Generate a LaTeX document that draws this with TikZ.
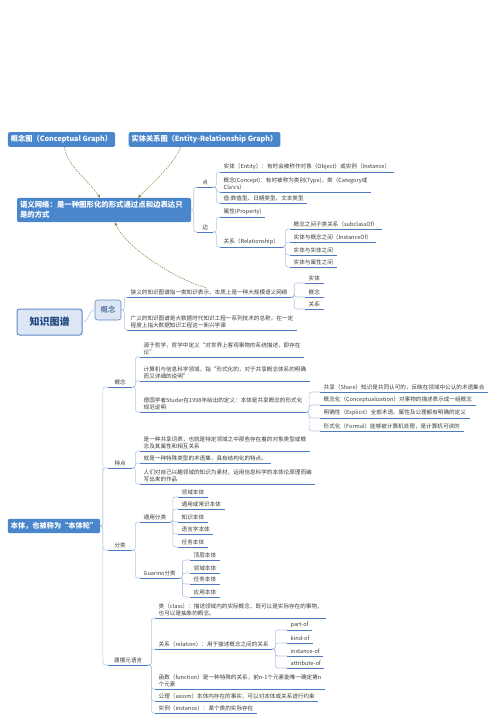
\documentclass[tikz,border=0pt]{standalone}
\usepackage{fontspec}
\setmainfont{Noto Sans CJK SC}
\newfontfamily\latinfont{Liberation Sans}
\usepackage{xcolor}
\usepackage{tikz}
\usetikzlibrary{arrows.meta,positioning}

\definecolor{topicblue}{HTML}{4A86CC}
\definecolor{kgfill}{HTML}{DCE6F4}
\definecolor{kgline}{HTML}{5F88C2}
\definecolor{kgtext}{HTML}{21467F}
\definecolor{ulblue}{HTML}{5079C4}
\definecolor{brline}{HTML}{B7C6DE}
\definecolor{relline}{HTML}{8C7A3C}
\definecolor{txt}{HTML}{3A3A3A}

\begin{document}
\begin{tikzpicture}[x=1pt, y=-1pt,
      topic/.style={fill=topicblue, text=white, rounded corners=2pt, inner xsep=3pt, inner ysep=3.5pt,
        font=\bfseries\fontsize{7.2}{9}\selectfont},
      kgbox/.style={fill=kgfill, draw=kgline, line width=1pt, rounded corners=2.5pt, text=kgtext},
      uline/.style={draw=ulblue, line width=0.9pt},
      leaf/.style={anchor=south west, inner xsep=3.5pt, inner ysep=1.8pt, align=left, text=txt,
        font=\fontsize{5.6}{7.2}\selectfont,
        append after command={(\tikzlastnode.south west) edge[uline] (\tikzlastnode.south east)}},
      br/.style={draw=brline, line width=0.6pt, rounded corners=2.5pt},
      rel/.style={draw=relline, line width=0.5pt, dash pattern=on 1.5pt off 1pt,
        -{Stealth[length=3.5pt,width=3pt]}}]
    \useasboundingbox (0,0) rectangle (500,720);

    % semantic network
    \node[topic] (cg) at (61.5,139.5) {概念图（Conceptual Graph）};
    \node[topic] (er) at (204.5,139.5) {实体关系图（Entity-Relationship Graph）};
    \node[topic, text width=168pt, align=left, font=\bfseries\fontsize{7.4}{10}\selectfont] (sn) at (104,210)
      {语义网络：是一种图形化的形式通过点和边表达只\\是的方式};

    \node[leaf, minimum width=16pt] (dian) at (197,187) {点};
    \node[leaf, minimum width=16pt] (bian) at (197,232) {边};
    \node[leaf] (e1) at (220,172) {实体（Entity）：有时会被称作对象（Object）或实例（Instance）};
    \node[leaf] (e2) at (220,192) {概念(Concept)：有时被称为类别(Type)，类（Category或\\Cla{\latinfont'}s{\latinfont'}s）};
    \node[leaf] (e3) at (220,203) {值:数值型、日期类型、文本类型};
    \node[leaf] (e4) at (220,217) {属性(Property)};
    \node[leaf] (e5) at (220,247) {关系（Relationship）};
    \node[leaf] (f1) at (290,229) {概念之间子类关系（subclassOf）};
    \node[leaf] (f2) at (290,242) {实体与概念之间（InstanceOf）};
    \node[leaf] (f3) at (290,255) {实体与实体之间};
    \node[leaf] (f4) at (290,267) {实体与属性之间};

    \draw[br] (sn.east) -- ++(2.5,0) |- (dian.south west);
    \draw[br] (sn.east) -- ++(2.5,0) |- (bian.south west);
    \draw[br] (dian.south east) -- ++(3,0) |- (e1.south west);
    \draw[br] (dian.south east) -- ++(3,0) |- (e2.south west);
    \draw[br] (dian.south east) -- ++(3,0) |- (e3.south west);
    \draw[br] (bian.south east) -- ++(3,0) |- (e4.south west);
    \draw[br] (bian.south east) -- ++(3,0) |- (e5.south west);
    \draw[br] (e5.south east) -- ++(3,0) |- (f1.south west);
    \draw[br] (e5.south east) -- ++(3,0) |- (f2.south west);
    \draw[br] (e5.south east) -- ++(3,0) |- (f3.south west);
    \draw[br] (e5.south east) -- ++(3,0) |- (f4.south west);

    % knowledge graph
    \node[kgbox, minimum width=65pt, minimum height=26pt, font=\bfseries\fontsize{10}{12}\selectfont] (kg) at (49.5,322) {知识图谱};
    \node[kgbox, line width=0.6pt, minimum width=26pt, minimum height=20pt, font=\fontsize{7.4}{9}\selectfont] (gn) at (108,310) {概念};
    \node[leaf] (narrow) at (127,297) {狭义的知识图谱指一类知识表示，本质上是一种大规模语义网络};
    \node[leaf] (broad) at (127,330) {广义的知识图谱是大数据时代知识工程一系列技术的总称，在一定\\程度上指大数据知识工程这一新兴学课};
    \node[leaf] (n1) at (305,283) {实体};
    \node[leaf] (n2) at (305,297) {概念};
    \node[leaf] (n3) at (305,309) {关系};

    \draw[br] (kg.east) .. controls +(7,0) and +(-7,0) .. (gn.west);
    \draw[br] (gn.east) -- ++(3,0) |- (narrow.south west);
    \draw[br] (gn.east) -- ++(3,0) |- (broad.south west);
    \draw[br] (narrow.south east) -- ++(3,0) |- (n1.south west);
    \draw[br] (narrow.south east) -- ++(3,0) |- (n2.south west);
    \draw[br] (narrow.south east) -- ++(3,0) |- (n3.south west);

    % relations
    \draw[rel] ([xshift=3pt]cg.south) .. controls +(2,18) and +(-12,-18) .. ([xshift=-4pt]sn.north);
    \draw[rel] ([xshift=-24pt]er.south) .. controls +(-5,15) and +(15,-15) .. ([xshift=34pt]sn.north);
    \draw[rel] ([xshift=-3pt]narrow.north) .. controls +(-30,-8) and +(10,25) .. ([xshift=11pt]sn.south);

    % ontology
    \node[topic] (ont) at (54,526) {本体，也被称为“本体轮”};
    \node[leaf, minimum width=24pt] (o1) at (108,387) {概念};
    \node[leaf, minimum width=24pt] (o2) at (108,468) {特点};
    \node[leaf, minimum width=24pt] (o3) at (108,550) {分类};
    \node[leaf, minimum width=40pt] (o4) at (108,665) {建模元语言};

    \node[leaf] (a1) at (140,357) {源于哲学，哲学中定义“对世界上客观事物的系统描述，即存在\\论”};
    \node[leaf] (a2) at (140,381) {计算机与信息科学领域，指“形式化的，对于共享概念体系的明确\\而又详细的说明”};
    \node[leaf] (a3) at (140,412) {德国学者Studer在1998年给出的定义：本体是共享概念的形式化\\规范说明};
    \node[leaf] (p1) at (320,392) {共享（Share）知识是共同认可的，反映在领域中公认的术语集合};
    \node[leaf] (p2) at (320,405) {概念化（Conceptualization）对事物的描述表示成一组概念};
    \node[leaf] (p3) at (320,418) {明确性（Explicit）全部术语、属性及公理都有明确的定义};
    \node[leaf] (p4) at (320,431) {形式化（Formal）能够被计算机处理，是计算机可读的};

    \node[leaf] (b1) at (140,451) {是一种共享词表，也就是特定领域之中那些存在着的对象类型或概\\念及其属性和相互关系};
    \node[leaf] (b2) at (140,463) {就是一种特殊类型的术语集，具有结构化的特点。};
    \node[leaf] (b3) at (140,484) {人们对自己兴趣领域的知识为素材，运用信息科学的本体论原理而编\\写出来的作品};

    \node[leaf] (c1) at (140,522) {通用分类};
    \node[leaf] (c11) at (178,497) {领域本体};
    \node[leaf] (c12) at (178,509) {通用或常识本体};
    \node[leaf] (c13) at (178,522) {知识本体};
    \node[leaf] (c14) at (178,534) {语言学本体};
    \node[leaf] (c15) at (178,547) {任务本体};
    \node[leaf] (c2) at (140,578) {Guarino分类};
    \node[leaf] (c21) at (190,560) {顶层本体};
    \node[leaf] (c22) at (190,573) {领域本体};
    \node[leaf] (c23) at (190,584) {任务本体};
    \node[leaf] (c24) at (190,597) {应用本体};

    \node[leaf] (d1) at (155,618) {类（class）：描述领域内的实际概念，既可以是实际存在的事物，\\也可以是抽象的概念。};
    \node[leaf] (d2) at (155,649) {关系（relation）：用于描述概念之间的关系};
    \node[leaf] (r1) at (287,630) {part-of};
    \node[leaf] (r2) at (287,643) {kind-of};
    \node[leaf] (r3) at (287,656) {instance-of};
    \node[leaf] (r4) at (287,668) {attribute-of};
    \node[leaf] (d3) at (155,689) {函数（function）是一种特殊的关系，前n-1个元素能唯一确定第n\\个元素};
    \node[leaf] (d4) at (155,701) {公理（axiom）本体内存在的事实，可以对本体或关系进行约束};
    \node[leaf] (d5) at (155,713) {实例（instance）：某个类的实际存在};

    \draw[br] (ont.east) -- ++(2.5,0) |- (o1.south west);
    \draw[br] (ont.east) -- ++(2.5,0) |- (o2.south west);
    \draw[br] (ont.east) -- ++(2.5,0) |- (o3.south west);
    \draw[br] (ont.east) -- ++(2.5,0) |- (o4.south west);
    \draw[br] (o1.south east) -- ++(3,0) |- (a1.south west);
    \draw[br] (o1.south east) -- ++(3,0) |- (a2.south west);
    \draw[br] (o1.south east) -- ++(3,0) |- (a3.south west);
    \draw[br] (a3.south east) -- ++(3,0) |- (p1.south west);
    \draw[br] (a3.south east) -- ++(3,0) |- (p2.south west);
    \draw[br] (a3.south east) -- ++(3,0) |- (p3.south west);
    \draw[br] (a3.south east) -- ++(3,0) |- (p4.south west);
    \draw[br] (o2.south east) -- ++(3,0) |- (b1.south west);
    \draw[br] (o2.south east) -- ++(3,0) |- (b2.south west);
    \draw[br] (o2.south east) -- ++(3,0) |- (b3.south west);
    \draw[br] (o3.south east) -- ++(3,0) |- (c1.south west);
    \draw[br] (o3.south east) -- ++(3,0) |- (c2.south west);
    \draw[br] (c1.south east) -- ++(3,0) |- (c11.south west);
    \draw[br] (c1.south east) -- ++(3,0) |- (c12.south west);
    \draw[br] (c1.south east) -- ++(3,0) |- (c13.south west);
    \draw[br] (c1.south east) -- ++(3,0) |- (c14.south west);
    \draw[br] (c1.south east) -- ++(3,0) |- (c15.south west);
    \draw[br] (c2.south east) -- ++(3,0) |- (c21.south west);
    \draw[br] (c2.south east) -- ++(3,0) |- (c22.south west);
    \draw[br] (c2.south east) -- ++(3,0) |- (c23.south west);
    \draw[br] (c2.south east) -- ++(3,0) |- (c24.south west);
    \draw[br] (o4.south east) -- ++(3,0) |- (d1.south west);
    \draw[br] (o4.south east) -- ++(3,0) |- (d2.south west);
    \draw[br] (o4.south east) -- ++(3,0) |- (d3.south west);
    \draw[br] (o4.south east) -- ++(3,0) |- (d4.south west);
    \draw[br] (o4.south east) -- ++(3,0) |- (d5.south west);
    \draw[br] (d2.south east) -- ++(3,0) |- (r1.south west);
    \draw[br] (d2.south east) -- ++(3,0) |- (r2.south west);
    \draw[br] (d2.south east) -- ++(3,0) |- (r3.south west);
    \draw[br] (d2.south east) -- ++(3,0) |- (r4.south west);
  \end{tikzpicture}
\end{document}
